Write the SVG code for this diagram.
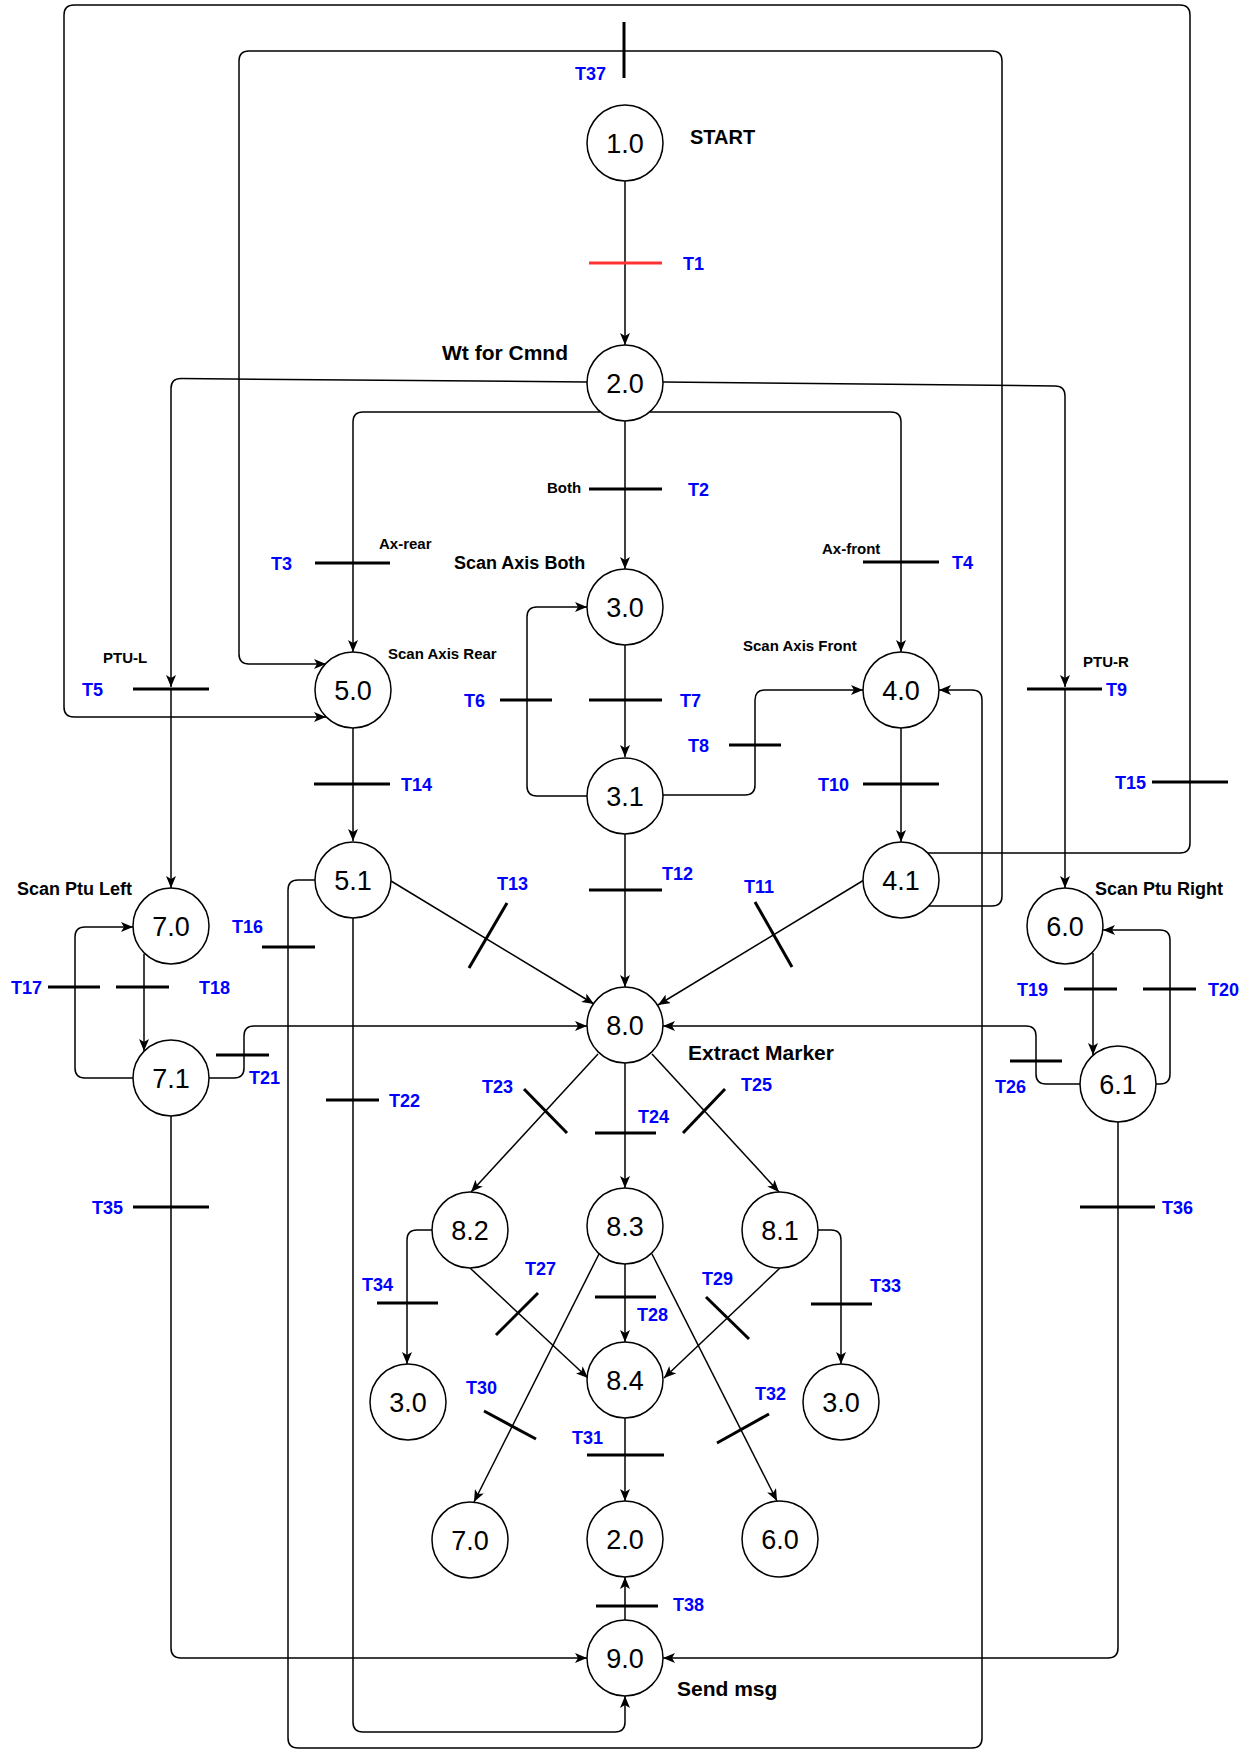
<svg xmlns="http://www.w3.org/2000/svg" width="1249" height="1752" viewBox="0 0 1249 1752">
<style>
.node circle{fill:#fff;stroke:#000;stroke-width:1.5}
.node text{font-family:"Liberation Sans",Arial,sans-serif;font-size:27px;text-anchor:middle;fill:#000}
.conn path{fill:none;stroke:#000;stroke-width:1.5}
.conn .arr{marker-end:url(#arrow)}
.bar{stroke:#000;stroke-width:3;fill:none}
.tl{font-family:"Liberation Sans",Arial,sans-serif;font-weight:bold;font-size:18px;fill:#0000ff}
.lb{font-family:"Liberation Sans",Arial,sans-serif;font-weight:bold;fill:#000}
</style>
<defs>
<marker id="arrow" viewBox="0 0 12 10" refX="12" refY="5" markerWidth="12" markerHeight="10" markerUnits="userSpaceOnUse" orient="auto">
<path d="M0,0 L12,5 L0,10 L3,5 Z" fill="#000"/>
</marker>
</defs>
<rect width="1249" height="1752" fill="#fff"/>

<g id="connectors" class="conn">
<path class="arr" d="M625 181 L625 345"/>
<path class="arr" d="M587 382 L181 378.5 Q171 378.5 171 388.5 L171 687"/>
<path class="arr" d="M171 689 L171 888"/>
<path class="arr" d="M600 412 L363 412 Q353 412 353 422 L353 652"/>
<path class="arr" d="M625 421 L625 569"/>
<path class="arr" d="M650 412 L891 412 Q901 412 901 422 L901 652"/>
<path class="arr" d="M663 382 L1055 386 Q1065 386 1065 396 L1065 687"/>
<path class="arr" d="M1065 689 L1065 888"/>
<path class="arr" d="M625 645 L625 757"/>
<path class="arr" d="M587 796 L537 796 Q527 796 527 786 L527 617 Q527 607 537 607 L587 607"/>
<path class="arr" d="M663 795 L745 795 Q755 795 755 785 L755 700 Q755 690 765 690 L863 690"/>
<path class="arr" d="M901 728 L901 842"/>
<path class="arr" d="M353 728 L353 841"/>
<path class="arr" d="M391 881 L594 1004"/>
<path class="arr" d="M625 834 L625 987"/>
<path class="arr" d="M864 880 L658 1005"/>
<path class="arr" d="M928 853 L1180 853 Q1190 853 1190 843 L1190 15 Q1190 5 1180 5 L74 5 Q64 5 64 15 L64 707 Q64 717 74 717 L326 717"/>
<path class="arr" d="M928 906 L992 906 Q1002 906 1002 896 L1002 61 Q1002 51 992 51 L249 51 Q239 51 239 61 L239 654 Q239 664 249 664 L326 664"/>
<path class="arr" d="M315 880 L298 880 Q288 880 288 890 L288 1738 Q288 1748 298 1748 L972 1748 Q982 1748 982 1738 L982 700 Q982 690 972 690 L939 690"/>
<path class="arr" d="M353 918 L353 1722 Q353 1732 363 1732 L615 1732 Q625 1732 625 1722 L625 1696"/>
<path class="arr" d="M144 954 L144 1051"/>
<path class="arr" d="M133 1078 L85 1078 Q75 1078 75 1068 L75 937 Q75 927 85 927 L133 927"/>
<path class="arr" d="M209 1078 L234 1078 Q244 1078 244 1068 L244 1036 Q244 1026 254 1026 L587 1026"/>
<path class="arr" d="M171 1116 L171 1648 Q171 1658 181 1658 L587 1658"/>
<path class="arr" d="M1093 953 L1093 1055"/>
<path class="arr" d="M1156 1084 L1160 1084 Q1170 1084 1170 1074 L1170 940 Q1170 930 1160 930 L1103 930"/>
<path class="arr" d="M1080 1084 L1046 1084 Q1036 1084 1036 1074 L1036 1036 Q1036 1026 1026 1026 L663 1026"/>
<path class="arr" d="M1118 1122 L1118 1648 Q1118 1658 1108 1658 L663 1658"/>
<path class="arr" d="M598 1054 L471 1192"/>
<path class="arr" d="M625 1063 L625 1188"/>
<path class="arr" d="M652 1054 L779 1192"/>
<path class="arr" d="M432 1230 L417 1230 Q407 1230 407 1240 L407 1364"/>
<path class="arr" d="M818 1230 L831 1230 Q841 1230 841 1240 L841 1364"/>
<path class="arr" d="M470 1268 L588 1378"/>
<path class="arr" d="M780 1268 L664 1378"/>
<path class="arr" d="M625 1264 L625 1342"/>
<path class="arr" d="M599 1254 L474 1502"/>
<path class="arr" d="M652 1254 L777 1501"/>
<path class="arr" d="M625 1418 L625 1501"/>
<path class="arr" d="M625 1620 L625 1577"/>
</g>

<g id="transitions">
<line class="bar" x1="589" y1="263" x2="662" y2="263" style="stroke:#ff3333"/>
<line class="bar" x1="589" y1="489" x2="662" y2="489"/>
<line class="bar" x1="315" y1="563" x2="390" y2="563"/>
<line class="bar" x1="863" y1="562" x2="939" y2="562"/>
<line class="bar" x1="133" y1="689" x2="209" y2="689"/>
<line class="bar" x1="500" y1="700" x2="552" y2="700"/>
<line class="bar" x1="589" y1="700" x2="662" y2="700"/>
<line class="bar" x1="729" y1="745" x2="781" y2="745"/>
<line class="bar" x1="1027" y1="689" x2="1102" y2="689"/>
<line class="bar" x1="863" y1="784" x2="939" y2="784"/>
<line class="bar" x1="755" y1="902" x2="792" y2="967"/>
<line class="bar" x1="589" y1="890" x2="662" y2="890"/>
<line class="bar" x1="507" y1="903" x2="469" y2="968"/>
<line class="bar" x1="314" y1="784" x2="390" y2="784"/>
<line class="bar" x1="1152" y1="782" x2="1228" y2="782"/>
<line class="bar" x1="262" y1="947" x2="315" y2="947"/>
<line class="bar" x1="48" y1="987" x2="100" y2="987"/>
<line class="bar" x1="116" y1="987" x2="169" y2="987"/>
<line class="bar" x1="1064" y1="989" x2="1117" y2="989"/>
<line class="bar" x1="1143" y1="989" x2="1196" y2="989"/>
<line class="bar" x1="216" y1="1055" x2="269" y2="1055"/>
<line class="bar" x1="326" y1="1100" x2="379" y2="1100"/>
<line class="bar" x1="524" y1="1089" x2="567" y2="1133"/>
<line class="bar" x1="595" y1="1133" x2="656" y2="1133"/>
<line class="bar" x1="725" y1="1089" x2="683" y2="1133"/>
<line class="bar" x1="1010" y1="1061" x2="1062" y2="1061"/>
<line class="bar" x1="538" y1="1293" x2="496" y2="1335"/>
<line class="bar" x1="595" y1="1297" x2="656" y2="1297"/>
<line class="bar" x1="706" y1="1297" x2="749" y2="1339"/>
<line class="bar" x1="484" y1="1411" x2="536" y2="1439"/>
<line class="bar" x1="587" y1="1455" x2="664" y2="1455"/>
<line class="bar" x1="769" y1="1414" x2="717" y2="1443"/>
<line class="bar" x1="811" y1="1304" x2="872" y2="1304"/>
<line class="bar" x1="377" y1="1303" x2="438" y2="1303"/>
<line class="bar" x1="133" y1="1207" x2="209" y2="1207"/>
<line class="bar" x1="1080" y1="1207" x2="1155" y2="1207"/>
<line class="bar" x1="624" y1="22" x2="624" y2="78"/>
<line class="bar" x1="596" y1="1606" x2="658" y2="1606"/>
</g>

<g id="transition-labels">
<text class="tl" x="683" y="269.5">T1</text>
<text class="tl" x="688" y="495.5">T2</text>
<text class="tl" x="271" y="569.5">T3</text>
<text class="tl" x="952" y="568.5">T4</text>
<text class="tl" x="82" y="695.5">T5</text>
<text class="tl" x="464" y="706.5">T6</text>
<text class="tl" x="680" y="706.5">T7</text>
<text class="tl" x="688" y="751.5">T8</text>
<text class="tl" x="1106" y="695.5">T9</text>
<text class="tl" x="818" y="790.5">T10</text>
<text class="tl" x="744" y="892.5">T11</text>
<text class="tl" x="662" y="879.5">T12</text>
<text class="tl" x="497" y="889.5">T13</text>
<text class="tl" x="401" y="790.5">T14</text>
<text class="tl" x="1115" y="788.5">T15</text>
<text class="tl" x="232" y="932.5">T16</text>
<text class="tl" x="11" y="993.5">T17</text>
<text class="tl" x="199" y="993.5">T18</text>
<text class="tl" x="1017" y="995.5">T19</text>
<text class="tl" x="1208" y="995.5">T20</text>
<text class="tl" x="249" y="1083.5">T21</text>
<text class="tl" x="389" y="1106.5">T22</text>
<text class="tl" x="482" y="1092.5">T23</text>
<text class="tl" x="638" y="1122.5">T24</text>
<text class="tl" x="741" y="1090.5">T25</text>
<text class="tl" x="995" y="1092.5">T26</text>
<text class="tl" x="525" y="1274.5">T27</text>
<text class="tl" x="637" y="1320.5">T28</text>
<text class="tl" x="702" y="1284.5">T29</text>
<text class="tl" x="466" y="1393.5">T30</text>
<text class="tl" x="572" y="1443.5">T31</text>
<text class="tl" x="755" y="1399.5">T32</text>
<text class="tl" x="870" y="1291.5">T33</text>
<text class="tl" x="362" y="1290.5">T34</text>
<text class="tl" x="92" y="1213.5">T35</text>
<text class="tl" x="1162" y="1213.5">T36</text>
<text class="tl" x="575" y="79.5">T37</text>
<text class="tl" x="673" y="1610.5">T38</text>
</g>

<g id="labels">
<text class="lb" x="690" y="144" font-size="20">START</text>
<text class="lb" x="442" y="359.5" font-size="21">Wt for Cmnd</text>
<text class="lb" x="454" y="568.5" font-size="18">Scan Axis Both</text>
<text class="lb" x="379" y="548.5" font-size="15">Ax-rear</text>
<text class="lb" x="388" y="658.5" font-size="15">Scan Axis Rear</text>
<text class="lb" x="103" y="662.5" font-size="15">PTU-L</text>
<text class="lb" x="547" y="492.5" font-size="15">Both</text>
<text class="lb" x="822" y="553.5" font-size="15">Ax-front</text>
<text class="lb" x="743" y="650.5" font-size="15">Scan Axis Front</text>
<text class="lb" x="1083" y="666.5" font-size="15">PTU-R</text>
<text class="lb" x="17" y="894.5" font-size="18">Scan Ptu Left</text>
<text class="lb" x="1095" y="894.5" font-size="18">Scan Ptu Right</text>
<text class="lb" x="688" y="1059.5" font-size="21">Extract Marker</text>
<text class="lb" x="677" y="1695.5" font-size="21">Send msg</text>
</g>

<g id="n1_0" class="node"><circle cx="625" cy="143" r="38"/><text x="625" y="153">1.0</text></g>
<g id="n2_0" class="node"><circle cx="625" cy="383" r="38"/><text x="625" y="393">2.0</text></g>
<g id="n3_0" class="node"><circle cx="625" cy="607" r="38"/><text x="625" y="617">3.0</text></g>
<g id="n3_1" class="node"><circle cx="625" cy="796" r="38"/><text x="625" y="806">3.1</text></g>
<g id="n5_0" class="node"><circle cx="353" cy="690" r="38"/><text x="353" y="700">5.0</text></g>
<g id="n5_1" class="node"><circle cx="353" cy="880" r="38"/><text x="353" y="890">5.1</text></g>
<g id="n4_0" class="node"><circle cx="901" cy="690" r="38"/><text x="901" y="700">4.0</text></g>
<g id="n4_1" class="node"><circle cx="901" cy="880" r="38"/><text x="901" y="890">4.1</text></g>
<g id="n7_0" class="node"><circle cx="171" cy="926" r="38"/><text x="171" y="936">7.0</text></g>
<g id="n7_1" class="node"><circle cx="171" cy="1078" r="38"/><text x="171" y="1088">7.1</text></g>
<g id="n6_0" class="node"><circle cx="1065" cy="926" r="38"/><text x="1065" y="936">6.0</text></g>
<g id="n6_1" class="node"><circle cx="1118" cy="1084" r="38"/><text x="1118" y="1094">6.1</text></g>
<g id="n8_0" class="node"><circle cx="625" cy="1025" r="38"/><text x="625" y="1035">8.0</text></g>
<g id="n8_2" class="node"><circle cx="470" cy="1230" r="38"/><text x="470" y="1240">8.2</text></g>
<g id="n8_3" class="node"><circle cx="625" cy="1226" r="38"/><text x="625" y="1236">8.3</text></g>
<g id="n8_1" class="node"><circle cx="780" cy="1230" r="38"/><text x="780" y="1240">8.1</text></g>
<g id="n8_4" class="node"><circle cx="625" cy="1380" r="38"/><text x="625" y="1390">8.4</text></g>
<g id="n3_0_left" class="node"><circle cx="408" cy="1402" r="38"/><text x="408" y="1412">3.0</text></g>
<g id="n3_0_right" class="node"><circle cx="841" cy="1402" r="38"/><text x="841" y="1412">3.0</text></g>
<g id="n7_0_bottom" class="node"><circle cx="470" cy="1540" r="38"/><text x="470" y="1550">7.0</text></g>
<g id="n2_0_bottom" class="node"><circle cx="625" cy="1539" r="38"/><text x="625" y="1549">2.0</text></g>
<g id="n6_0_bottom" class="node"><circle cx="780" cy="1539" r="38"/><text x="780" y="1549">6.0</text></g>
<g id="n9_0" class="node"><circle cx="625" cy="1658" r="38"/><text x="625" y="1668">9.0</text></g>
</svg>
